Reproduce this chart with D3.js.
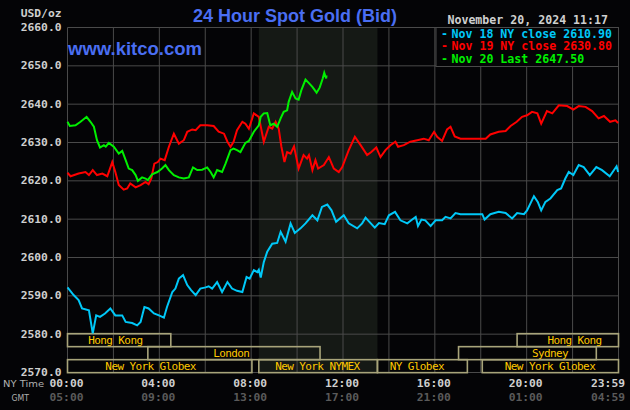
<!DOCTYPE html>
<html>
<head>
<meta charset="utf-8">
<script src="https://cdn.jsdelivr.net/npm/d3@7"></script>
<style>
  body { margin: 0; background: #040406; }
  .mono { font-family: "DejaVu Sans Mono", monospace; }
</style>
</head>
<body>
<script>
// prices: [minutes after midnight NY time, USD/oz]
var nov18 = [[0,2592.2],[16,2590.2],[29,2588.9],[38,2586.7],[56,2586.2],[66,2580.2],[75,2584.9],[85,2584.5],[98,2585.4],[112,2586.7],[125,2584.9],[143,2584.9],[152,2583.2],[169,2582.9],[182,2582.3],[191,2583.2],[201,2587.1],[212,2586.7],[226,2585.4],[239,2584.9],[252,2584.3],[260,2587.1],[274,2591.0],[282,2591.9],[291,2594.5],[302,2595.4],[313,2592.8],[323,2591.5],[335,2590.2],[347,2591.9],[361,2592.2],[369,2592.5],[378,2591.9],[391,2593.6],[404,2591.0],[418,2593.6],[430,2591.9],[443,2591.3],[457,2591.0],[468,2594.9],[476,2594.5],[487,2596.7],[496,2596.2],[500,2596.8],[505,2594.8],[513,2598.8],[522,2601.5],[535,2603.6],[548,2603.8],[557,2606.7],[570,2604.1],[583,2608.9],[594,2606.4],[609,2607.6],[622,2608.9],[640,2611.0],[653,2609.7],[665,2613.2],[679,2613.8],[690,2612.3],[702,2609.3],[722,2611.0],[735,2608.9],[757,2607.6],[770,2608.9],[779,2610.4],[789,2609.3],[803,2607.8],[814,2609.0],[829,2608.7],[840,2611.0],[856,2611.9],[870,2609.7],[888,2608.9],[901,2609.9],[910,2610.6],[916,2608.2],[925,2609.9],[935,2609.7],[949,2608.2],[962,2609.7],[979,2609.7],[988,2610.6],[1001,2610.2],[1014,2611.6],[1027,2611.3],[1084,2611.3],[1090,2609.9],[1105,2611.3],[1127,2611.9],[1145,2611.6],[1162,2610.2],[1175,2611.6],[1193,2611.3],[1201,2612.3],[1219,2616.0],[1229,2614.5],[1238,2612.3],[1249,2614.5],[1262,2615.4],[1280,2617.6],[1290,2618.0],[1301,2620.6],[1310,2622.3],[1322,2621.5],[1336,2624.1],[1349,2623.6],[1365,2621.5],[1382,2623.6],[1397,2622.8],[1417,2621.2],[1435,2623.8],[1439,2622.3]];

var nov19 = [[0,2622.1],[8,2621.2],[29,2621.9],[47,2622.3],[56,2621.5],[66,2622.8],[77,2621.5],[91,2621.9],[104,2621.2],[117,2624.9],[125,2622.3],[134,2618.9],[147,2617.7],[156,2618.0],[164,2619.3],[178,2618.3],[191,2618.9],[204,2619.7],[212,2619.1],[219,2620.6],[227,2624.5],[236,2624.9],[243,2625.8],[254,2625.4],[265,2628.9],[278,2632.3],[291,2629.7],[304,2630.6],[313,2632.8],[326,2633.4],[335,2633.2],[347,2634.5],[365,2634.5],[382,2634.3],[395,2632.8],[409,2632.3],[418,2630.2],[426,2628.9],[434,2630.2],[443,2633.2],[457,2635.4],[465,2634.9],[474,2633.6],[487,2637.6],[500,2636.7],[513,2630.2],[526,2634.1],[535,2633.6],[544,2635.4],[552,2633.6],[559,2628.9],[567,2624.9],[574,2627.5],[583,2627.1],[592,2629.0],[604,2623.2],[617,2626.7],[626,2625.8],[631,2626.7],[640,2622.8],[648,2625.4],[655,2623.2],[670,2624.1],[683,2626.2],[696,2623.2],[709,2622.3],[718,2623.6],[735,2628.0],[751,2631.5],[766,2629.3],[783,2626.7],[794,2627.5],[807,2628.7],[818,2626.2],[831,2628.0],[844,2629.3],[857,2630.2],[864,2628.9],[879,2629.3],[896,2630.2],[914,2630.6],[931,2631.0],[944,2630.6],[958,2632.8],[966,2631.5],[979,2630.4],[992,2633.4],[1001,2634.1],[1012,2631.6],[1027,2631.0],[1093,2631.0],[1105,2632.1],[1127,2632.8],[1145,2633.0],[1158,2634.3],[1174,2635.4],[1188,2636.7],[1201,2637.1],[1214,2638.0],[1228,2637.6],[1238,2634.9],[1253,2638.2],[1267,2637.6],[1284,2639.7],[1306,2639.5],[1322,2638.6],[1336,2639.5],[1354,2639.3],[1371,2638.2],[1388,2636.3],[1402,2636.9],[1418,2635.4],[1432,2635.8],[1439,2635.1]];

var nov20 = [[0,2635.4],[6,2634.3],[21,2634.5],[34,2635.4],[50,2636.7],[60,2635.4],[69,2634.1],[77,2630.6],[85,2628.7],[95,2629.3],[100,2628.9],[108,2629.9],[121,2628.9],[134,2627.1],[143,2627.8],[152,2625.4],[160,2623.2],[169,2622.8],[178,2621.5],[184,2620.0],[195,2620.9],[204,2620.6],[210,2620.2],[221,2621.7],[235,2622.3],[247,2623.2],[256,2624.1],[265,2622.8],[278,2621.5],[291,2620.9],[304,2620.6],[317,2620.9],[328,2623.5],[339,2622.8],[352,2622.9],[365,2623.5],[374,2622.3],[382,2620.9],[391,2622.8],[404,2622.3],[413,2624.5],[426,2628.0],[434,2628.4],[443,2628.0],[452,2627.5],[465,2629.9],[474,2630.4],[487,2632.8],[500,2634.5],[505,2636.7],[513,2637.6],[522,2637.7],[530,2634.5],[539,2634.9],[548,2634.1],[557,2636.3],[565,2638.0],[574,2638.4],[578,2640.6],[587,2643.2],[596,2641.5],[604,2641.2],[611,2643.6],[622,2646.4],[631,2645.5],[640,2644.5],[651,2643.0],[659,2644.3],[667,2646.7],[671,2648.2],[676,2646.7],[677,2647.5]];

var legendLabels = ["Nov 18 NY close 2610.90", "Nov 19 NY close 2630.80", "Nov 20 Last 2647.50"];
var seriesColors = ["#00c8f8", "#ff0000", "#00f000"];

var yTicks = [2570, 2580, 2590, 2600, 2610, 2620, 2630, 2640, 2650, 2660];
var tickMinutes = [0, 240, 480, 720, 960, 1200, 1439];
var nyLabels = ["00:00", "04:00", "08:00", "12:00", "16:00", "20:00", "23:59"];
var gmtLabels = ["05:00", "09:00", "13:00", "17:00", "21:00", "01:00", "04:59"];

// trading sessions: start/end in minutes, row from top, where the name sits
var sessionNames = ["Hong Kong", "London", "New York Globex", "New York NYMEX", "NY Globex", "Hong Kong", "Sydney", "New York Globex"];
var sessionStart = [0, 210, 0, 500, 810, 1175, 1022, 1084];
var sessionEnd = [270, 660, 482, 810, 1045, 1440, 1382, 1440];
var sessionRow = [0, 1, 2, 2, 2, 0, 1, 2];
var sessionLabelAt = [125, 428, 217, 653, 913, 1325, 1261, 1261];

var nymexShade = [500, 810];

var width = 630, height = 410;
var svg = d3.select("body").append("svg")
  .attr("width", width).attr("height", height)
  .style("display", "block");

svg.append("rect").attr("width", width).attr("height", height).attr("fill", "#040406");

var x = d3.scaleLinear().domain([0, 1440]).range([67.5, 618.5]);
var y = d3.scaleLinear().domain([2570, 2660]).range([372.5, 27.5]);

// NYMEX hours shading
svg.append("rect")
  .attr("x", x(nymexShade[0])).attr("y", y(2660))
  .attr("width", x(nymexShade[1]) - x(nymexShade[0]))
  .attr("height", y(2570) - y(2660))
  .attr("fill", "#151915");

// grid
var grid = svg.append("g").attr("stroke", "#4a4a4a").attr("stroke-width", 1);
grid.selectAll(".h").data(yTicks).enter().append("line")
  .attr("x1", x(0)).attr("x2", x(1440))
  .attr("y1", function(d) { return y(d); }).attr("y2", function(d) { return y(d); });
grid.selectAll(".v").data(d3.range(0, 1441, 120)).enter().append("line")
  .attr("x1", function(d) { return x(d); }).attr("x2", function(d) { return x(d); })
  .attr("y1", y(2660)).attr("y2", y(2570));

// y labels
svg.selectAll(".ylab").data(yTicks).enter().append("text")
  .attr("class", "mono")
  .attr("x", 61.5).attr("y", function(d) { return y(d) + 3.5; })
  .attr("text-anchor", "end")
  .attr("font-size", "11.3px").attr("font-weight", "bold")
  .attr("fill", "#cfcfcf")
  .text(function(d) { return d3.format(".1f")(d); });

svg.append("text").attr("class", "mono")
  .attr("x", 61.5).attr("y", 16.5).attr("text-anchor", "end")
  .attr("font-size", "11.3px").attr("font-weight", "bold")
  .attr("fill", "#cfcfcf").text("USD/oz");

// sessions
var sess = svg.append("g");
sessionNames.forEach(function(name, i) {
  var top = y(2580) - 0.5 + sessionRow[i] * 13;
  sess.append("rect")
    .attr("x", x(sessionStart[i])).attr("y", top)
    .attr("width", x(sessionEnd[i]) - x(sessionStart[i]))
    .attr("height", 13)
    .attr("fill", "none").attr("stroke", "#a8a47a").attr("stroke-width", 1.6);
});
sessionNames.forEach(function(name, i) {
  var top = y(2580) - 0.5 + sessionRow[i] * 13;
  sess.append("text").attr("class", "mono")
    .attr("x", x(sessionLabelAt[i])).attr("y", top + 10)
    .attr("text-anchor", "middle")
    .attr("font-size", "11px").attr("letter-spacing", "-0.6px")
    .attr("fill", "#ffc800").text(name);
});

// price lines
var line = d3.line()
  .x(function(d) { return x(d[0]); })
  .y(function(d) { return y(d[1]); });

[nov18, nov19, nov20].forEach(function(s, i) {
  svg.append("path").datum(s)
    .attr("d", line)
    .attr("fill", "none")
    .attr("stroke", seriesColors[i])
    .attr("stroke-width", 2);
});

// legend box
svg.append("rect")
  .attr("x", 436).attr("y", y(2660))
  .attr("width", x(1440) - 436).attr("height", 39)
  .attr("fill", "#040406").attr("stroke", "#4a4a4a");

legendLabels.forEach(function(t, i) {
  var by = 37.7 + i * 12.5;
  svg.append("text").attr("class", "mono")
    .attr("x", 441).attr("y", by)
    .attr("font-size", "11.6px").attr("font-weight", "bold")
    .attr("fill", seriesColors[i]).text("-");
  svg.append("text").attr("class", "mono")
    .attr("x", 451.5).attr("y", by)
    .attr("font-size", "11.6px").attr("font-weight", "bold")
    .attr("fill", seriesColors[i]).text(t);
});

svg.append("text").attr("class", "mono")
  .attr("x", 608).attr("y", 24).attr("text-anchor", "end")
  .attr("font-size", "11.6px").attr("font-weight", "bold")
  .attr("fill", "#cfcfcf").text("November 20, 2024 11:17");

// title + site
svg.append("text")
  .attr("x", 295).attr("y", 21.7).attr("text-anchor", "middle")
  .attr("font-family", "Liberation Sans, Arial, sans-serif")
  .attr("font-size", "18px").attr("font-weight", "bold")
  .attr("fill", "#4a6ef2").text("24 Hour Spot Gold (Bid)");

svg.append("text")
  .attr("x", 68).attr("y", 55)
  .attr("font-family", "Liberation Sans, Arial, sans-serif")
  .attr("font-size", "19px").attr("font-weight", "bold")
  .attr("textLength", 134).attr("lengthAdjust", "spacingAndGlyphs")
  .attr("fill", "#4a6ef2").text("www.kitco.com");

// x labels
tickMinutes.forEach(function(m, i) {
  var last = i === tickMinutes.length - 1;
  var tx = last ? 625 : x(m) - 1;
  var anchor = last ? "end" : "middle";
  svg.append("text").attr("class", "mono")
    .attr("x", tx).attr("y", 387).attr("text-anchor", anchor)
    .attr("font-size", "11.3px").attr("font-weight", "bold")
    .attr("fill", "#cfcfcf").text(nyLabels[i]);
  svg.append("text").attr("class", "mono")
    .attr("x", tx).attr("y", 401).attr("text-anchor", anchor)
    .attr("font-size", "11.3px").attr("font-weight", "bold")
    .attr("fill", "#5a5a5a").text(gmtLabels[i]);
});

svg.append("text")
  .attr("x", 3).attr("y", 387)
  .attr("font-family", "DejaVu Sans, sans-serif").attr("font-size", "9.5px")
  .attr("textLength", 41).attr("lengthAdjust", "spacingAndGlyphs")
  .attr("fill", "#b0b0b0").text("NY Time");
svg.append("text")
  .attr("x", 11.5).attr("y", 401)
  .attr("font-family", "DejaVu Sans, sans-serif").attr("font-size", "9.5px")
  .attr("textLength", 17.5).attr("lengthAdjust", "spacingAndGlyphs")
  .attr("fill", "#b0b0b0").text("GMT");
</script>
</body>
</html>
